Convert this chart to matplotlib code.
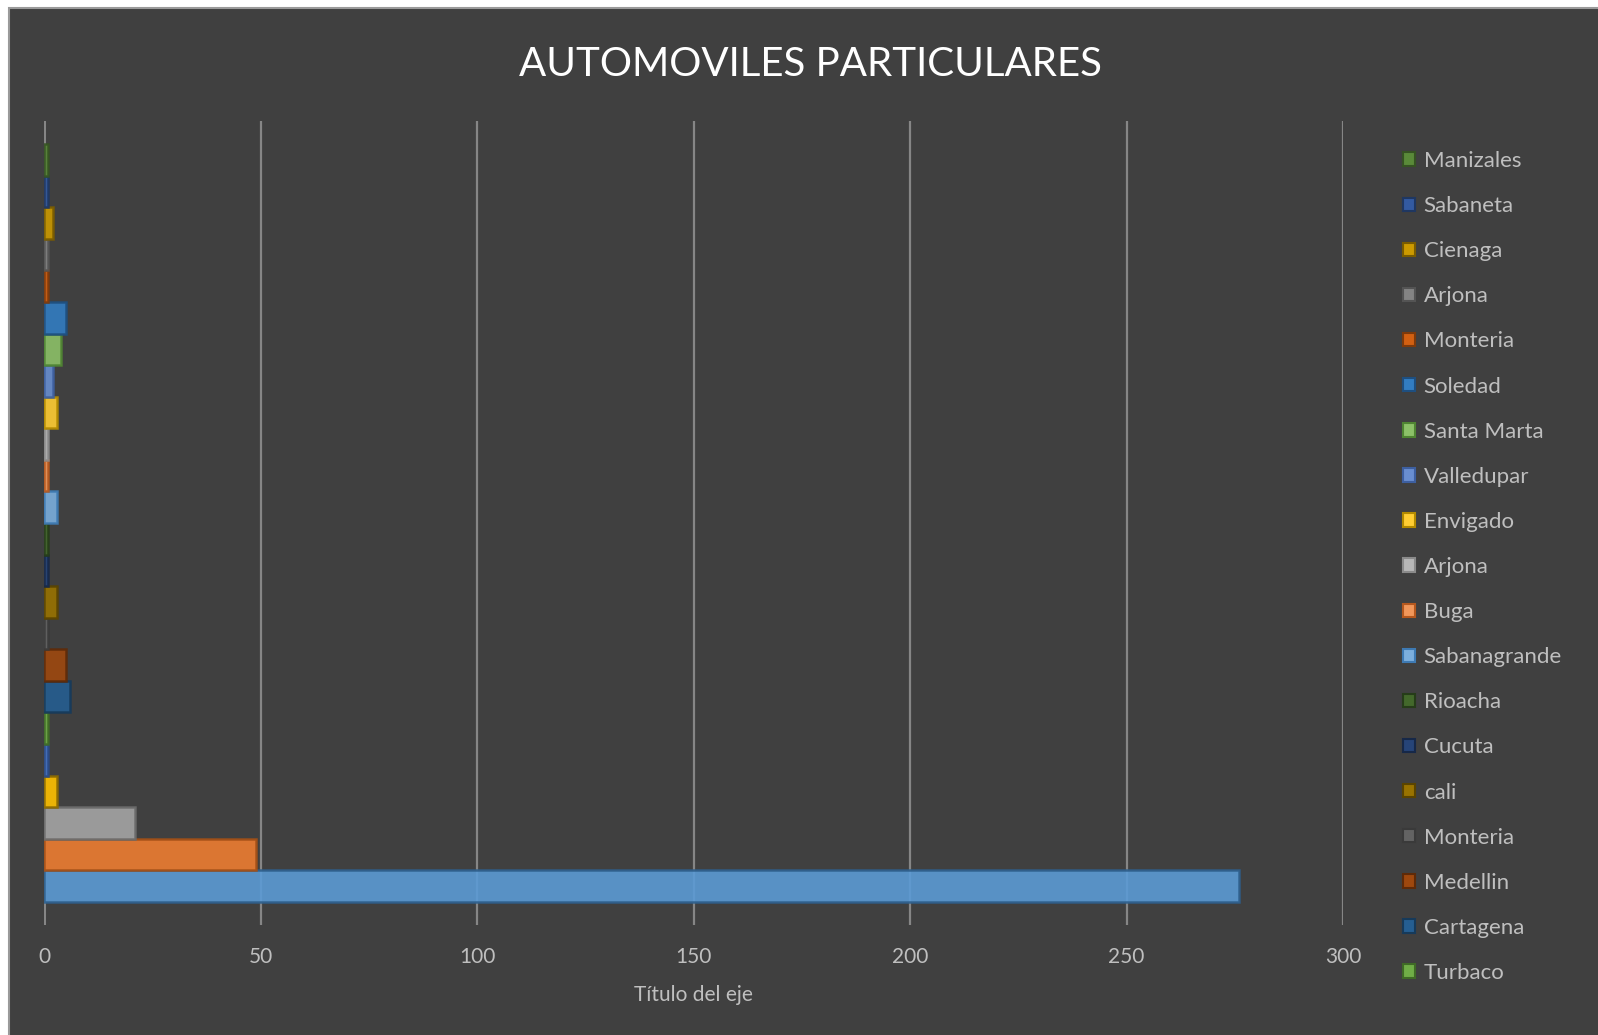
import matplotlib
matplotlib.use("Agg")
import matplotlib.pyplot as plt
from matplotlib.patches import Rectangle, Patch

plt.rcParams['font.family'] = ['Lato', 'DejaVu Sans']

# Series in plotting order (bottom bar first); the legend lists only the last 19
series_names = [
    "Serie 1", "Serie 2", "Serie 3", "Serie 4", "Serie 5",
    "Turbaco", "Cartagena", "Medellin", "Monteria", "cali", "Cucuta",
    "Rioacha", "Sabanagrande", "Buga", "Arjona", "Envigado", "Valledupar",
    "Santa Marta", "Soledad", "Monteria", "Arjona", "Cienaga", "Sabaneta",
    "Manizales",
]
series_values = [
    276, 49, 21, 3, 1,
    1, 6, 5, 1, 3, 1,
    1, 3, 1, 1, 3, 2,
    4, 5, 1, 1, 2, 1,
    1,
]
legend_start = 5

fill_colors = [
    "#5B9BD5", "#ED7D31", "#A5A5A5", "#FFC000", "#4472C4", "#70AD47",
    "#255E91", "#9E480E", "#636363", "#997300", "#264478", "#43682B",
    "#7CAFDD", "#F1975A", "#B7B7B7", "#FFCD33", "#698ED0", "#8CC168",
    "#327DC2", "#D26012", "#848484", "#CC9A00", "#335AA1", "#5A8A39",
]
edge_colors = [
    "#2E5F8C", "#A34F16", "#6B6B6B", "#8C6A00", "#2A4A85", "#3F6A26",
    "#163A5A", "#5E2A08", "#3A3A3A", "#5A4400", "#162848", "#263C19",
    "#3E7AB3", "#B5581E", "#8A8A8A", "#B38A00", "#3D5FA0", "#4F8532",
    "#1E4F80", "#7E3A0B", "#545454", "#7A5C00", "#1F3761", "#365323",
]

xticks = [0, 50, 100, 150, 200, 250, 300]

BG = "#404040"
TXT = "#BFBFBF"
GRID = "#868686"

fig = plt.figure(figsize=(15.98, 10.35), dpi=100, facecolor="white")
# dark chart area with a thin grey frame on its top and left edges
fig.patches.append(Rectangle((9 / 1598, -0.01), 1.02 - 9 / 1598, 1.01 - 8 / 1035,
                             transform=fig.transFigure, facecolor=BG,
                             edgecolor="#9A9A9A", linewidth=1.5, zorder=-5))

ax = fig.add_axes([44 / 1598, 110 / 1035, 1299 / 1598, 804 / 1035])
ax.set_facecolor("none")
ax.set_zorder(2)

n = len(series_values)
positions = list(range(n))
for i in range(n):
    ax.barh(positions[i], series_values[i], height=1.0,
            color=fill_colors[i], edgecolor=edge_colors[i], linewidth=1.8,
            alpha=0.9, zorder=3)

ax.set_xlim(0, 300)
ax.set_ylim(-0.5 - 0.73, n - 0.5 + 0.73)
ax.set_xticks(xticks)
ax.set_xticklabels([str(t) for t in xticks])
ax.set_yticks([])
ax.tick_params(axis="x", length=0, colors=TXT, labelsize=15, pad=16)
for s in ax.spines.values():
    s.set_visible(False)
ax.grid(axis="x", color=GRID, linewidth=1.6, zorder=1)
ax.set_axisbelow(True)
ax.axvline(0, color=GRID, linewidth=2.2, zorder=2)

ax.set_xlabel("Título del eje", color=TXT, fontsize=15, labelpad=13)

fig.text(810 / 1598, 1 - 64 / 1035, "AUTOMOVILES PARTICULARES",
         color="white", fontsize=29, ha="center", va="center")

handles = [Patch(facecolor=fill_colors[i], edgecolor=edge_colors[i],
                 linewidth=1.5, label=series_names[i])
           for i in range(n - 1, legend_start - 1, -1)]
leg = fig.legend(handles=handles, loc="upper left",
                 bbox_to_anchor=(1403 / 1598, 1 - 151 / 1035),
                 frameon=False, fontsize=16, labelcolor=TXT,
                 handlelength=0.55, handleheight=0.55, handletextpad=0.38,
                 labelspacing=1.13, borderaxespad=0, borderpad=0)

fig.savefig("out.png", dpi=100, facecolor="white")
